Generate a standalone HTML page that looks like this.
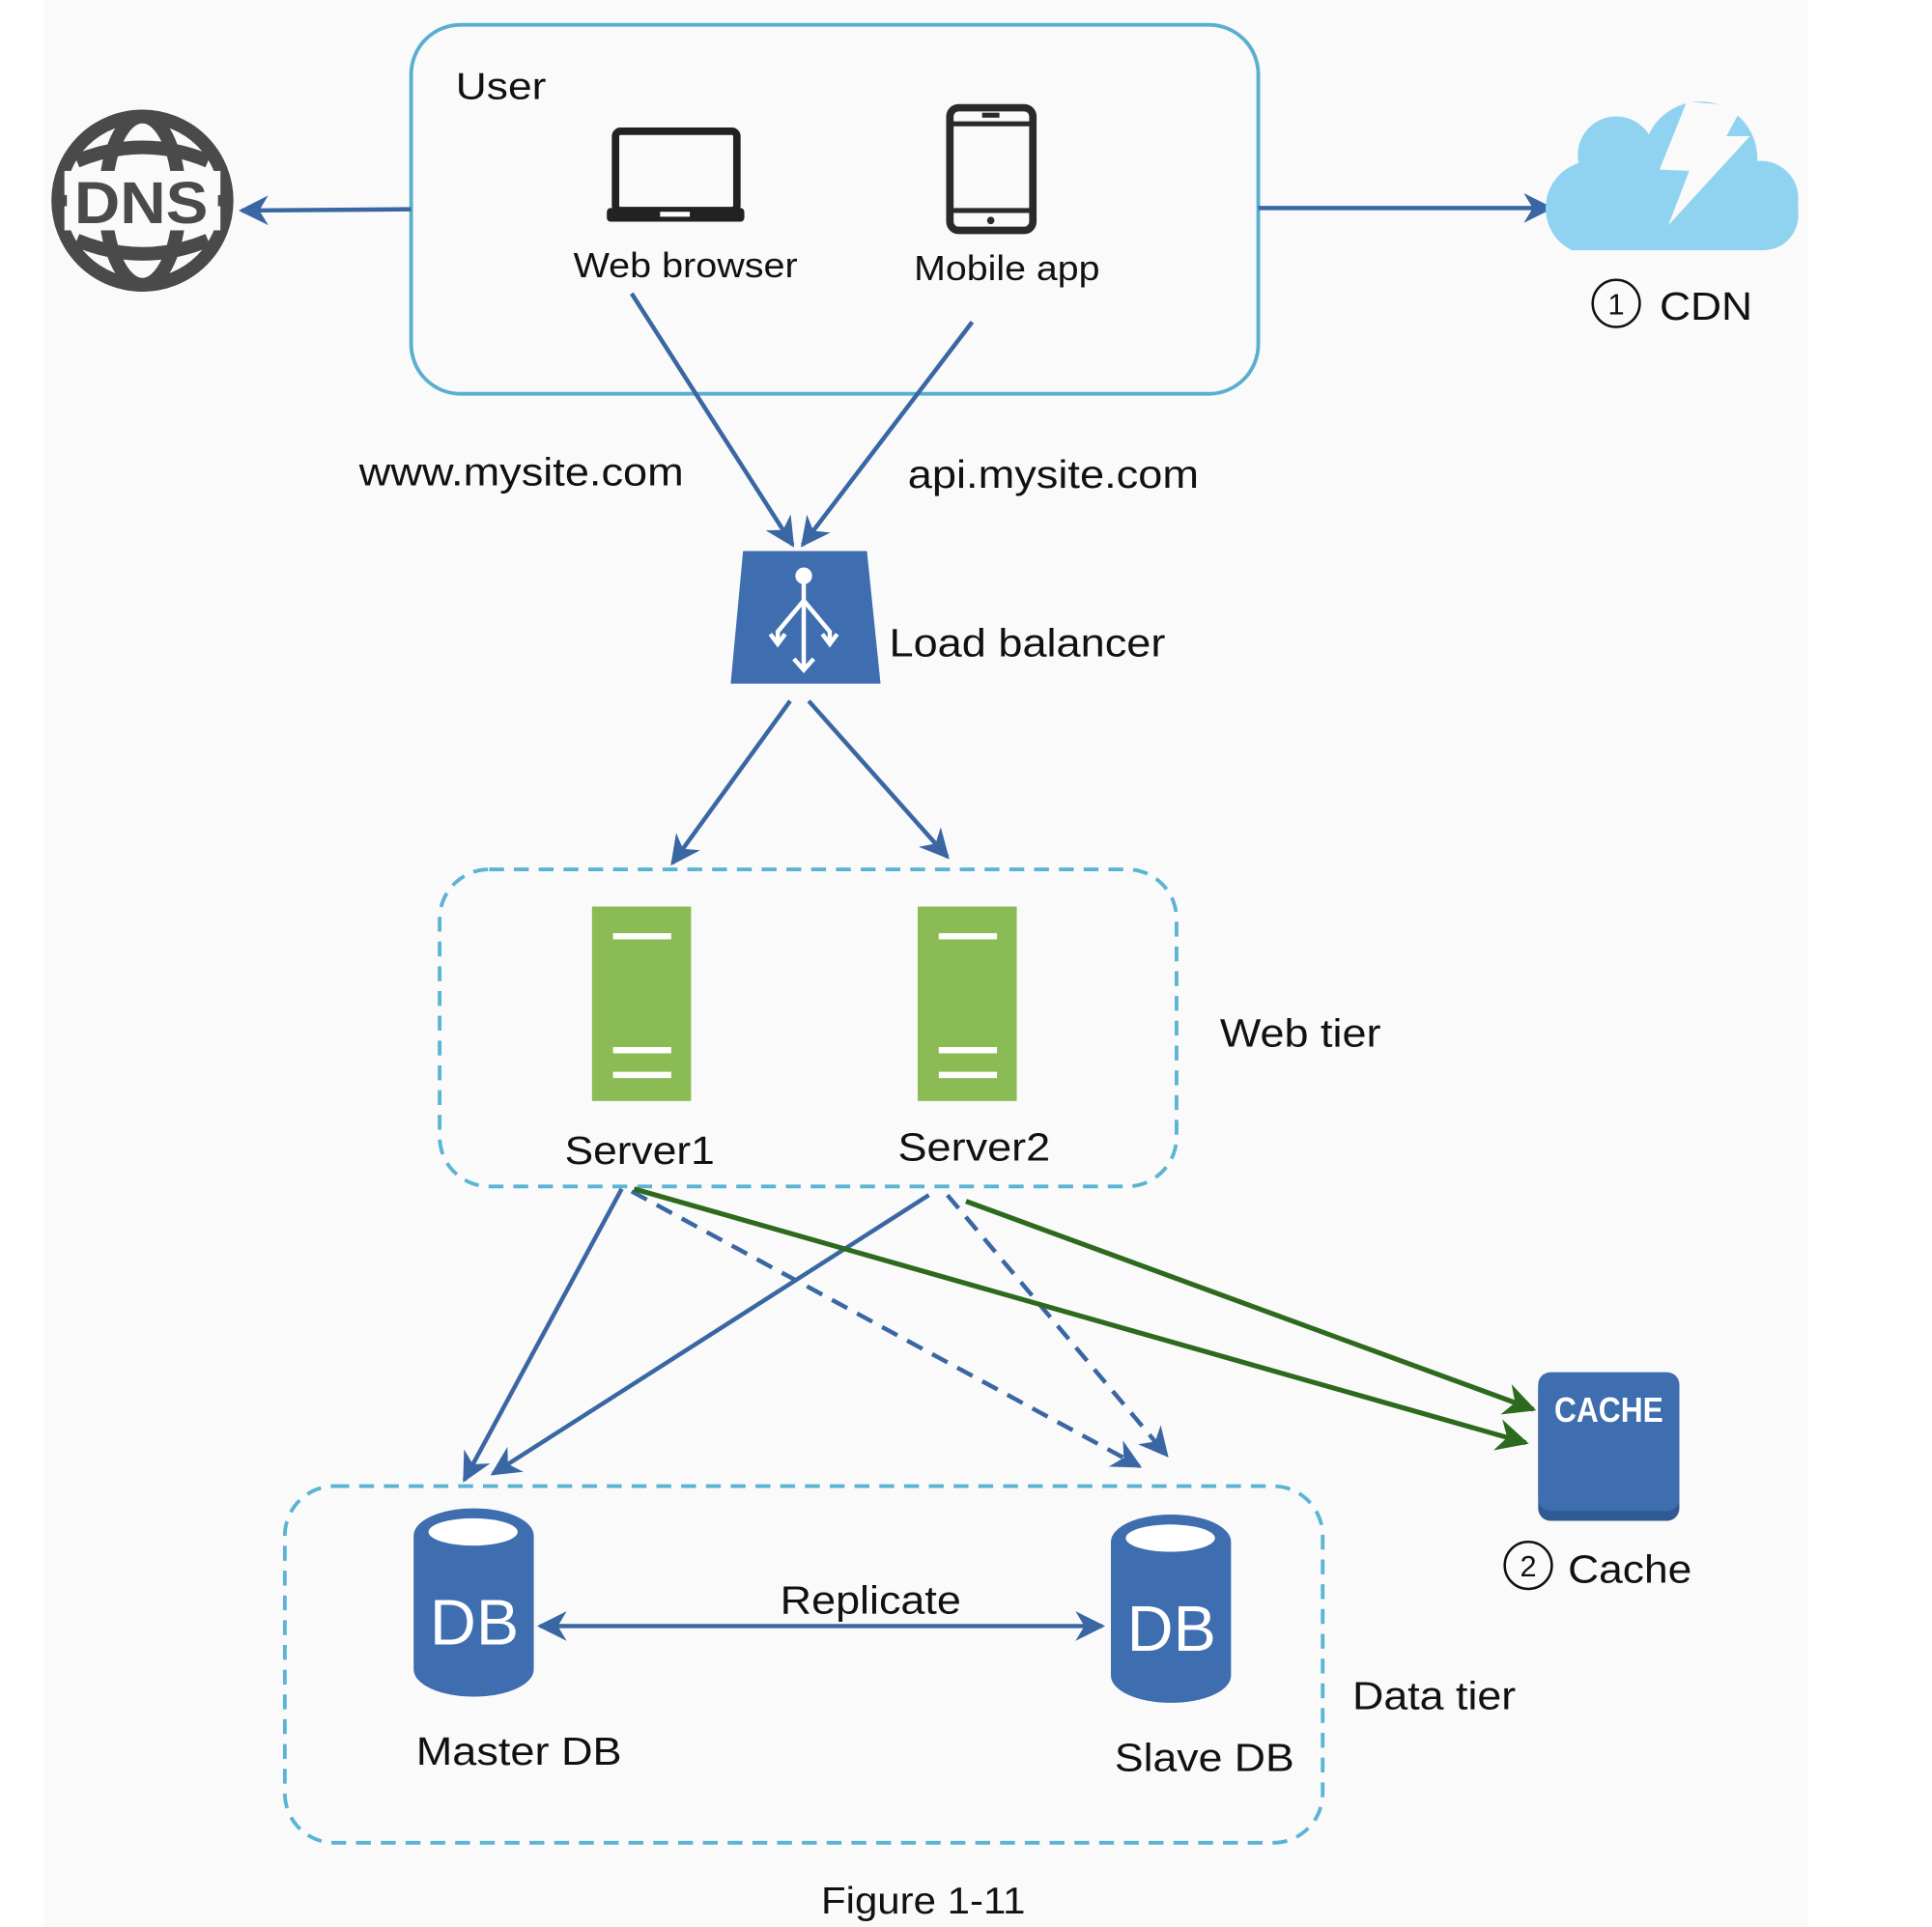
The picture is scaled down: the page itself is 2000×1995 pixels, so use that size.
<!DOCTYPE html>
<html><head><meta charset="utf-8"><style>
html,body{margin:0;padding:0;background:#fff;}
svg{display:block;}
text{font-family:"Liberation Sans",Arial,sans-serif;fill:#111;}
</style></head><body>
<svg width="2000" height="1995" viewBox="0 0 1560 1556" preserveAspectRatio="none" xmlns="http://www.w3.org/2000/svg">
<defs>
<marker id="abig" viewBox="0 0 10 10" refX="9" refY="5" markerWidth="24" markerHeight="24" orient="auto-start-reverse" markerUnits="userSpaceOnUse"><path d="M0,0 L10,5 L0,10 L3,5 z" fill="#3a67a3"/></marker>
<marker id="ag" viewBox="0 0 10 10" refX="9" refY="5" markerWidth="26" markerHeight="26" orient="auto" markerUnits="userSpaceOnUse"><path d="M0,0 L10,5 L0,10 L3,5 z" fill="#2d6a1d"/></marker>
<clipPath id="cc"><rect x="1240" y="60" width="230" height="142"/></clipPath>
</defs>
<rect x="0" y="0" width="1560" height="1556" fill="#fff"/>
<rect x="35" y="0" width="1425" height="1556" fill="#fafafa"/>

<rect x="332" y="20" width="684" height="298" rx="40" fill="none" stroke="#5aaed0" stroke-width="3"/>
<text x="368" y="80" font-size="30" textLength="73" lengthAdjust="spacingAndGlyphs">User</text>
<rect x="497" y="106" width="98" height="64" rx="4" fill="none" stroke="#222" stroke-width="6"/>
<rect x="490" y="168" width="111" height="11" rx="3" fill="#222"/>
<rect x="533" y="171" width="24" height="4" fill="#fff"/>
<text x="463" y="224" font-size="28" textLength="181" lengthAdjust="spacingAndGlyphs">Web browser</text>
<rect x="767" y="87" width="67" height="99" rx="7" fill="none" stroke="#2a2a2a" stroke-width="6"/>
<line x1="767" y1="100" x2="834" y2="100" stroke="#2a2a2a" stroke-width="4"/>
<line x1="767" y1="170" x2="834" y2="170" stroke="#2a2a2a" stroke-width="4"/>
<rect x="793" y="91" width="14" height="4" fill="#2a2a2a"/>
<circle cx="800" cy="178" r="3" fill="#2a2a2a"/>
<text x="738" y="226" font-size="28" textLength="150" lengthAdjust="spacingAndGlyphs">Mobile app</text>

<g stroke="#4a4a4a" fill="none" stroke-width="11">
<circle cx="115" cy="162" r="68"/>
<ellipse cx="115" cy="162" rx="30" ry="68"/>
<path d="M62,130 Q115,108 168,130"/>
<path d="M62,194 Q115,216 168,194"/>
</g>
<rect x="52" y="138" width="126" height="48" fill="#fafafa"/>
<text x="114" y="180" font-size="48" font-weight="bold" text-anchor="middle" style="fill:#4a4a4a" textLength="108" lengthAdjust="spacingAndGlyphs">DNS</text>
<line x1="42" y1="162" x2="54" y2="162" stroke="#4a4a4a" stroke-width="9"/>
<line x1="176" y1="162" x2="188" y2="162" stroke="#4a4a4a" stroke-width="9"/>

<line x1="332" y1="169" x2="195" y2="170" stroke="#3a67a3" stroke-width="3.5" marker-end="url(#abig)"/>
<line x1="1016" y1="168" x2="1252" y2="168" stroke="#3a67a3" stroke-width="3.5" marker-end="url(#abig)"/>

<g fill="#8fd3f0" clip-path="url(#cc)">
<circle cx="1305" cy="125" r="31"/>
<circle cx="1373" cy="128" r="46"/>
<circle cx="1422" cy="160" r="30"/>
<circle cx="1286" cy="168" r="38"/>
<rect x="1250" y="140" width="202" height="62" rx="28"/>
<rect x="1286" y="140" width="140" height="62"/>
</g>
<path d="M1362,82 L1340,137 L1364,138 L1347,182 L1413,110 L1394,110 L1407,86 z" fill="#fafafa"/>
<circle cx="1305" cy="245" r="19" fill="none" stroke="#111" stroke-width="2"/>
<text x="1305" y="254" font-size="24" text-anchor="middle">1</text>
<text x="1340" y="258" font-size="32" textLength="75" lengthAdjust="spacingAndGlyphs">CDN</text>

<line x1="510" y1="237" x2="640" y2="440" stroke="#3a67a3" stroke-width="3.5" marker-end="url(#abig)"/>
<line x1="785" y1="260" x2="648" y2="440" stroke="#3a67a3" stroke-width="3.5" marker-end="url(#abig)"/>
<text x="290" y="392" font-size="32" textLength="262" lengthAdjust="spacingAndGlyphs">www.mysite.com</text>
<text x="733" y="394" font-size="32" textLength="235" lengthAdjust="spacingAndGlyphs">api.mysite.com</text>

<path d="M600,445 L700,445 L711,552 L590,552 z" fill="#3e6db0"/>
<g stroke="#fff" stroke-width="3.5" fill="none">
<circle cx="649" cy="465" r="5" fill="#fff"/>
<line x1="649" y1="470" x2="649" y2="540"/>
<path d="M649,485 L628,510 L628,520"/>
<path d="M649,485 L670,510 L670,520"/>
<path d="M641,532 L649,541 L657,532"/>
<path d="M622,512 L628,520 L634,512"/>
<path d="M664,512 L670,520 L676,512"/>
</g>
<text x="718" y="530" font-size="32" textLength="223" lengthAdjust="spacingAndGlyphs">Load balancer</text>

<line x1="638" y1="566" x2="543" y2="697" stroke="#3a67a3" stroke-width="3.5" marker-end="url(#abig)"/>
<line x1="653" y1="566" x2="765" y2="692" stroke="#3a67a3" stroke-width="3.5" marker-end="url(#abig)"/>

<rect x="355" y="702" width="595" height="256" rx="40" fill="none" stroke="#5ab4d4" stroke-width="3" stroke-dasharray="12,8"/>
<rect x="478" y="732" width="80" height="157" fill="#8bbb55"/>
<rect x="741" y="732" width="80" height="157" fill="#8bbb55"/>
<g stroke="#fff" stroke-width="5">
<line x1="495" y1="756" x2="542" y2="756"/><line x1="495" y1="848" x2="542" y2="848"/><line x1="495" y1="868" x2="542" y2="868"/>
<line x1="758" y1="756" x2="805" y2="756"/><line x1="758" y1="848" x2="805" y2="848"/><line x1="758" y1="868" x2="805" y2="868"/>
</g>
<text x="456" y="940" font-size="32" textLength="121" lengthAdjust="spacingAndGlyphs">Server1</text>
<text x="725" y="937" font-size="32" textLength="123" lengthAdjust="spacingAndGlyphs">Server2</text>
<text x="985" y="845" font-size="32" textLength="130" lengthAdjust="spacingAndGlyphs">Web tier</text>

<line x1="502" y1="960" x2="375" y2="1195" stroke="#3a67a3" stroke-width="3.5" marker-end="url(#abig)"/>
<line x1="750" y1="965" x2="398" y2="1190" stroke="#3a67a3" stroke-width="3.5" marker-end="url(#abig)"/>
<line x1="510" y1="962" x2="920" y2="1184" stroke="#3a67a3" stroke-width="3.5" stroke-dasharray="14,9" marker-end="url(#abig)"/>
<line x1="765" y1="965" x2="942" y2="1175" stroke="#3a67a3" stroke-width="3.5" stroke-dasharray="14,9" marker-end="url(#abig)"/>
<line x1="512" y1="960" x2="1232" y2="1165" stroke="#2d6a1d" stroke-width="4" marker-end="url(#ag)"/>
<line x1="780" y1="970" x2="1238" y2="1138" stroke="#2d6a1d" stroke-width="4" marker-end="url(#ag)"/>

<rect x="230" y="1200" width="838" height="288" rx="40" fill="none" stroke="#5ab4d4" stroke-width="3" stroke-dasharray="12,8"/>
<g fill="#3e6db0">
<rect x="334" y="1218" width="97" height="152" rx="48" ry="22"/>
<rect x="897" y="1223" width="97" height="152" rx="48" ry="22"/>
</g>
<ellipse cx="382" cy="1237" rx="36" ry="11" fill="#fff"/>
<ellipse cx="945" cy="1242" rx="36" ry="11" fill="#fff"/>
<text x="383" y="1328" font-size="52" text-anchor="middle" style="fill:#fff" textLength="72" lengthAdjust="spacingAndGlyphs">DB</text>
<text x="946" y="1333" font-size="52" text-anchor="middle" style="fill:#fff" textLength="72" lengthAdjust="spacingAndGlyphs">DB</text>
<line x1="436" y1="1313" x2="890" y2="1313" stroke="#3a67a3" stroke-width="3.5" marker-start="url(#abig)" marker-end="url(#abig)"/>
<text x="630" y="1303" font-size="32" textLength="146" lengthAdjust="spacingAndGlyphs">Replicate</text>
<text x="336" y="1425" font-size="32" textLength="166" lengthAdjust="spacingAndGlyphs">Master DB</text>
<text x="900" y="1430" font-size="32" textLength="145" lengthAdjust="spacingAndGlyphs">Slave DB</text>
<text x="1092" y="1380" font-size="32" textLength="132" lengthAdjust="spacingAndGlyphs">Data tier</text>

<rect x="1242" y="1110" width="114" height="118" rx="10" fill="#2f5a94"/>
<rect x="1242" y="1108" width="114" height="112" rx="10" fill="#3e6db0"/>
<text x="1299" y="1148" font-size="28" font-weight="bold" text-anchor="middle" style="fill:#fff" textLength="88" lengthAdjust="spacingAndGlyphs">CACHE</text>
<circle cx="1234" cy="1264" r="19" fill="none" stroke="#111" stroke-width="2"/>
<text x="1234" y="1273" font-size="24" text-anchor="middle">2</text>
<text x="1266" y="1278" font-size="32" textLength="100" lengthAdjust="spacingAndGlyphs">Cache</text>

<text x="663" y="1545" font-size="30" textLength="165" lengthAdjust="spacingAndGlyphs">Figure 1-11</text>
</svg>
</body></html>
